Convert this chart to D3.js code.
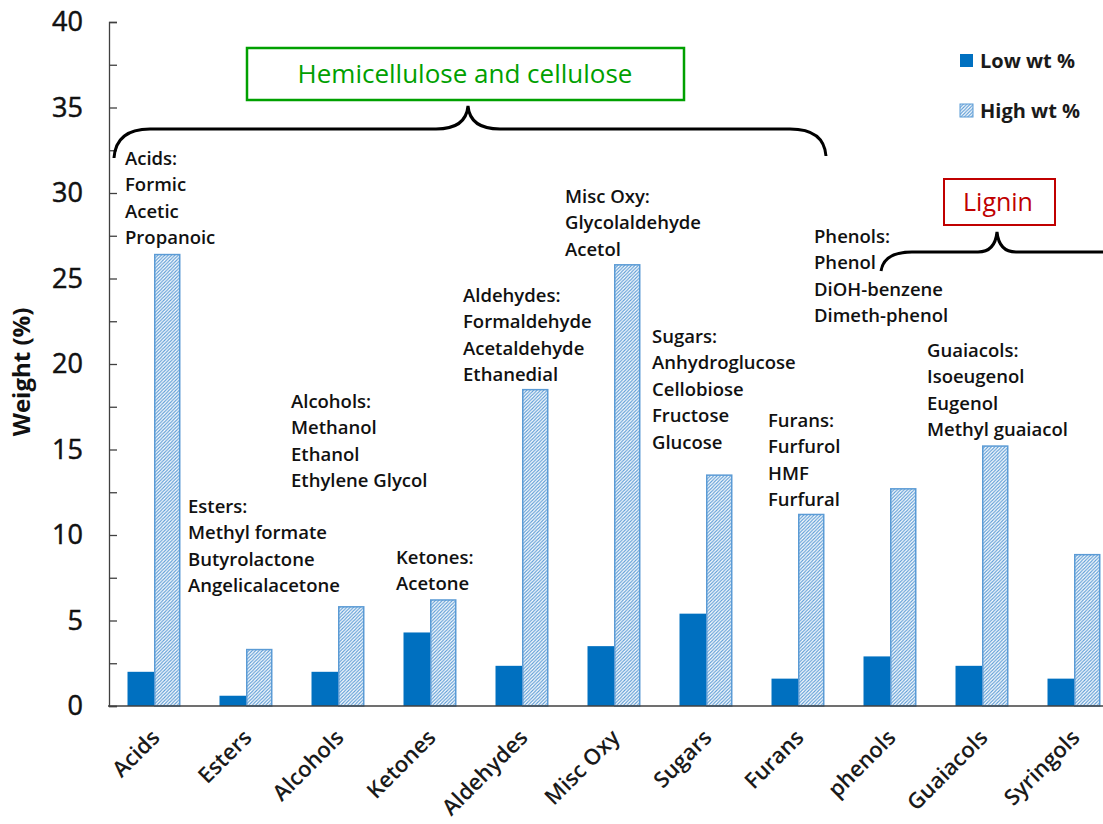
<!DOCTYPE html>
<html><head><meta charset="utf-8">
<script src="https://cdn.jsdelivr.net/npm/d3@7"></script>
<style>
html,body{margin:0;padding:0;background:#fff;overflow:hidden}
text{font-family:"Open Sans","Noto Sans",sans-serif}
</style></head>
<body>
<svg id="chart" width="1103" height="824"></svg>
<script>
const categories = ["Acids","Esters","Alcohols","Ketones","Aldehydes","Misc Oxy","Sugars","Furans","phenols","Guaiacols","Syringols"];
const lowWt  = [2.0, 0.6, 2.0, 4.3, 2.35, 3.5, 5.4, 1.6, 2.9, 2.35, 1.6];
const highWt = [26.4, 3.3, 5.8, 6.2, 18.5, 25.8, 13.5, 11.2, 12.7, 15.2, 8.85];
const seriesNames = ["Low wt %","High wt %"];
const yTicks = [0, 2.5, 5, 7.5, 10, 12.5, 15, 17.5, 20, 22.5, 25, 27.5, 30, 32.5, 35, 37.5, 40];
const annotations = [
  ["Acids:","Formic","Acetic","Propanoic"],
  ["Esters:","Methyl formate","Butyrolactone","Angelicalacetone"],
  ["Alcohols:","Methanol","Ethanol","Ethylene Glycol"],
  ["Ketones:","Acetone"],
  ["Aldehydes:","Formaldehyde","Acetaldehyde","Ethanedial"],
  ["Misc Oxy:","Glycolaldehyde","Acetol"],
  ["Sugars:","Anhydroglucose","Cellobiose","Fructose","Glucose"],
  ["Furans:","Furfurol","HMF","Furfural"],
  ["Phenols:","Phenol","DiOH-benzene","Dimeth-phenol"],
  ["Guaiacols:","Isoeugenol","Eugenol","Methyl guaiacol"]
];
const groupLabels = ["Hemicellulose and cellulose","Lignin"];

// layout (positions only)
const annLayout = [[125,165],[188,513],[291,408],[396,564],[463,302],[565,203],[652,343],[768,427],[814,243],[927,357]];

const svg = d3.select("#chart");
const lowColor = "#0070c0", highLine = "#5b9bd5";

const defs = svg.append("defs");
const pat = defs.append("pattern").attr("id","hatch").attr("patternUnits","userSpaceOnUse")
  .attr("width",3.4).attr("height",3.4);
pat.append("rect").attr("width",3.4).attr("height",3.4).attr("fill","#fff");
pat.append("path").attr("d","M-1,1 l2,-2 M0,3.4 l3.4,-3.4 M2.4,4.4 l2,-2")
  .attr("stroke",highLine).attr("stroke-width",1.1);

const y = d3.scaleLinear().domain([0,40]).range([706,22]);
const x0 = d3.scaleBand().domain(categories).range([108,1120]).paddingInner(0.424).paddingOuter(0.212);
const x1 = d3.scaleBand().domain(seriesNames).range([0,x0.bandwidth()]);

// bars
const data = categories.map((c,i)=>({c, vals:[lowWt[i], highWt[i]]}));
const g = svg.append("g");
const grp = g.selectAll("g.cat").data(data).join("g").attr("transform",d=>`translate(${x0(d.c)},0)`);
grp.selectAll("rect").data(d=>d.vals.map((v,j)=>({v,s:seriesNames[j],j})))
  .join("rect")
  .attr("x",d=>x1(d.s)+(d.j?0.75:0))
  .attr("width",d=>x1.bandwidth()-(d.j?1.5:0))
  .attr("y",d=>y(d.v))
  .attr("height",d=>y(0)-y(d.v))
  .attr("fill",d=>d.j?"url(#hatch)":lowColor)
  .attr("stroke",d=>d.j?highLine:"none")
  .attr("stroke-width",1.5);

// y axis
const yAxis = d3.axisLeft(y).tickValues(yTicks).tickSize(-8).tickPadding(26)
  .tickFormat(d=>d%5===0?d3.format("d")(d):"");
const ya = svg.append("g").attr("transform","translate(109,0)").call(yAxis);
ya.select(".domain").attr("stroke","#404040").attr("stroke-width",1.3);
ya.selectAll(".tick line").attr("stroke","#404040").attr("stroke-width",1.3);
ya.selectAll(".tick text").attr("font-family","'Liberation Sans',Arial,sans-serif")
  .attr("font-size",27).attr("fill","#111").attr("stroke","#111").attr("stroke-width",0.5);

// x axis
const xAxis = d3.axisBottom(x0).tickSize(0).tickPadding(0);
const xa = svg.append("g").attr("transform",`translate(0,${y(0)})`).call(xAxis);
xa.select(".domain").attr("d","M108,0H1103").attr("stroke","#404040").attr("stroke-width",1.5);
xa.selectAll(".tick text").attr("font-size",22).attr("font-weight",600).attr("fill","#1a1a1a")
  .attr("text-anchor","end").attr("dy",0)
  .attr("transform","translate(7,33) rotate(-45)");

// y title
svg.append("text").attr("transform","translate(30,372) rotate(-90)")
  .attr("text-anchor","middle").attr("font-family","'Liberation Sans',Arial,sans-serif")
  .attr("font-size",24).attr("font-weight",700).attr("fill","#111").text("Weight (%)");

// annotations
annotations.forEach((lines,i)=>{
  const t = svg.append("text").attr("x",annLayout[i][0]).attr("y",annLayout[i][1])
    .attr("font-size",18.5).attr("font-weight",600).attr("fill","#111");
  lines.forEach((l,k)=>t.append("tspan").attr("x",annLayout[i][0]).attr("dy",k?26.4:0).text(l));
});

// group boxes and braces
svg.append("rect").attr("x",247).attr("y",48).attr("width",437).attr("height",52)
  .attr("fill","#fff").attr("stroke","#00a000").attr("stroke-width",2.5);
svg.append("text").attr("x",465).attr("y",83).attr("text-anchor","middle")
  .attr("font-size",26).attr("font-weight",500).attr("fill","#00a000").text(groupLabels[0]);
svg.append("path").attr("d","M114,158 Q116,129 150,129 L436,129 Q466,129 468,106 Q470,129 500,129 L790,129 Q824,129 826,156")
  .attr("fill","none").attr("stroke","#000").attr("stroke-width",3);

svg.append("rect").attr("x",944).attr("y",179).attr("width",111).attr("height",46)
  .attr("fill","#fff").attr("stroke","#c00000").attr("stroke-width",2);
svg.append("text").attr("x",998).attr("y",211).attr("text-anchor","middle")
  .attr("font-size",25).attr("font-weight",500).attr("fill","#c00000").text(groupLabels[1]);
svg.append("path").attr("d","M881,271 Q884,252 912,252 L978,252 Q995,252 997,232 Q999,252 1016,252 L1110,252")
  .attr("fill","none").attr("stroke","#000").attr("stroke-width",3);

// legend
const leg = svg.append("g");
seriesNames.forEach((s,i)=>{
  const yy = 54 + i*50;
  leg.append("rect").attr("x",960).attr("y",yy).attr("width",13).attr("height",13)
    .attr("fill",i?"url(#hatch)":lowColor).attr("stroke",i?highLine:"none").attr("stroke-width",1);
  leg.append("text").attr("x",980).attr("y",yy+14).attr("font-size",20).attr("font-weight",700)
    .attr("fill","#1a1a1a").text(s);
});
</script>
</body></html>
